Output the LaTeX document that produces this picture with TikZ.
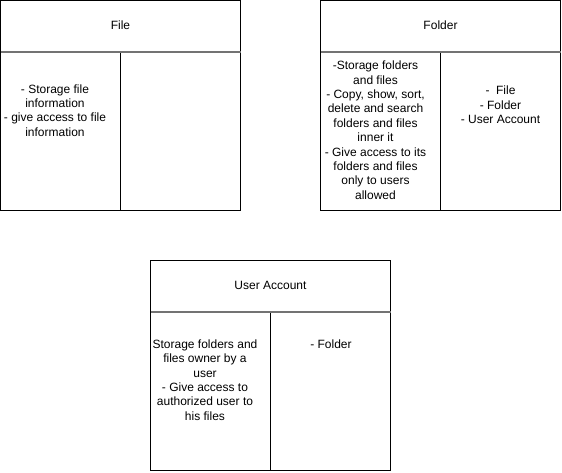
\documentclass[tikz,border=0pt]{standalone}
\usepackage{fontspec}
\setmainfont{Liberation Sans}
\tikzset{
  card/.style={draw=black, line width=1pt, fill=white},
  hdr/.style={draw=gray!90!black, line width=2pt},
  divider/.style={draw=black, line width=1pt},
  txt/.style={inner sep=0pt, align=center, font=\fontsize{12}{14.4}\selectfont}
}
\begin{document}
\begin{tikzpicture}[x=1pt,y=-1pt]
\useasboundingbox (0,0) rectangle (562,472);
% File
\draw[card] (0.5,0.5) rectangle (240.5,210.5);
\draw[hdr] (0.5,52) -- (240.5,52);
\draw[divider] (120.5,53) -- (120.5,210.5);
\node[txt] (fileT) at (120.5,25) {File};
\node[txt] (fileL) at (55,110.5) {- Storage file\\information\\- give access to file\\information};
% Folder
\draw[card] (320.5,0.5) rectangle (560.5,210.5);
\draw[hdr] (320.5,52) -- (560.5,52);
\draw[divider] (440.5,53) -- (440.5,210.5);
\node[txt] (folderT) at (440.5,25) {Folder};
\node[txt] (folderL) at (375.5,130.3) {-Storage folders\\and files\\- Copy, show, sort,\\delete and search\\folders and files\\inner it\\- Give access to its\\folders and files\\only to users\\allowed};
\node[txt] (folderR) at (500.5,105) {-~~File\\- Folder\\- User Account};
% User Account
\draw[card] (150.5,260.5) rectangle (390.5,470.5);
\draw[hdr] (150.5,312) -- (390.5,312);
\draw[divider] (270.5,313) -- (270.5,470.5);
\node[txt] (userT) at (270.5,285) {User Account};
\node[txt] (userL) at (205,380) {Storage folders and\\files owner by a\\user\\- Give access to\\authorized user to\\his files};
\node[txt] (userR) at (331,344.5) {- Folder};
\end{tikzpicture}
\end{document}
